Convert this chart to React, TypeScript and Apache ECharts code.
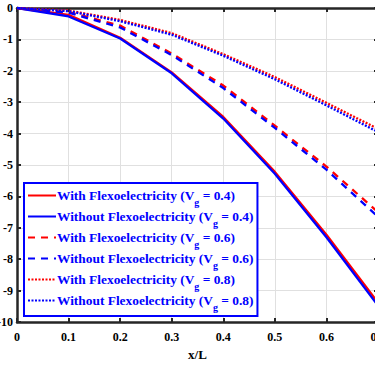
import React, { useEffect, useRef } from "react";
import * as echarts from "echarts";

const xs = [0, 0.1, 0.2, 0.3, 0.4, 0.5, 0.6, 0.7];
const withFlex04 = [0, -0.22, -0.95, -2.05, -3.47, -5.22, -7.22, -9.38];
const withoutFlex04 = [0, -0.27, -0.97, -2.08, -3.52, -5.28, -7.3, -9.48];
const withFlex06 = [0, -0.13, -0.56, -1.45, -2.47, -3.75, -5.05, -6.5];
const withoutFlex06 = [0, -0.15, -0.62, -1.5, -2.55, -3.82, -5.15, -6.65];
const withFlex08 = [0, -0.08, -0.38, -0.8, -1.47, -2.2, -3.02, -3.85];
const withoutFlex08 = [0, -0.1, -0.42, -0.85, -1.52, -2.27, -3.1, -3.95];

const names = [
  "With Flexoelectricity (V{sub|g} = 0.4)",
  "Without Flexoelectricity (V{sub|g} = 0.4)",
  "With Flexoelectricity (V{sub|g} = 0.6)",
  "Without Flexoelectricity (V{sub|g} = 0.6)",
  "With Flexoelectricity (V{sub|g} = 0.8)",
  "Without Flexoelectricity (V{sub|g} = 0.8)",
];
const seriesData = [withFlex04, withoutFlex04, withFlex06, withoutFlex06, withFlex08, withoutFlex08];
const colors = ["#ff0000", "#0000ff", "#ff0000", "#0000ff", "#ff0000", "#0000ff"];
const types: any[] = ["solid", "solid", [7, 6], [7, 6], [2, 1.5], [2, 1.5]];

const FONT = "Liberation Serif";

export default function App() {
  const ref = useRef<HTMLDivElement>(null);
  useEffect(() => {
    const chart = echarts.init(ref.current!, null, { renderer: "svg" });
    const series = names.map((n, i) => ({
      name: n,
      type: "line",
      data: xs.map((x, j) => [x, seriesData[i][j]]),
      symbol: "none",
      lineStyle: { color: colors[i], width: 2.3, type: types[i] },
      itemStyle: { color: colors[i] },
      z: 3,
    }));
    chart.setOption({
      animation: false,
      grid: { left: 17, top: 8, width: 361, height: 314, outerBoundsMode: "none", containLabel: false },
      legend: {
        orient: "vertical",
        left: 24,
        top: 183,
        padding: [6, 4, 4, 3],
        itemGap: 3,
        itemWidth: 28,
        itemHeight: 16,
        icon: "inherit",
        itemStyle: { opacity: 0 },
        backgroundColor: "#ffffff",
        borderColor: "#0000ff",
        borderWidth: 2,
        borderRadius: 0,
        data: names,
        textStyle: {
          color: "#0000ff",
          fontFamily: FONT,
          fontWeight: "bold",
          fontSize: 13.4,
          padding: [0, 0, 0, -4],
          rich: {
            sub: {
              color: "#0000ff",
              fontFamily: FONT,
              fontWeight: "bold",
              fontSize: 10,
              verticalAlign: "bottom",
              padding: [13, 0, 0, 0],
            },
          },
        },
      },
      xAxis: [
        {
          type: "value",
          min: 0,
          max: 0.7,
          interval: 0.1,
          position: "bottom",
          name: "x/L",
          nameLocation: "middle",
          nameGap: 22,
          nameTextStyle: { color: "#000", fontFamily: FONT, fontWeight: "bold", fontSize: 13 },
          axisLine: { show: true, onZero: false, lineStyle: { color: "#262626", width: 2.5 } },
          axisTick: { show: true, inside: true, length: 4, lineStyle: { color: "#262626", width: 2 } },
          axisLabel: {
            color: "#000",
            fontFamily: FONT,
            fontWeight: "bold",
            fontSize: 12,
            margin: 9,
            formatter: (v: number) => (Math.round(v * 10) / 10).toString(),
          },
          splitLine: { show: true, lineStyle: { color: "#e0e0e0", width: 1 } },
        },
        {
          type: "value",
          min: 0,
          max: 0.7,
          interval: 0.1,
          position: "top",
          axisLine: { show: true, onZero: false, lineStyle: { color: "#262626", width: 2.5 } },
          axisTick: { show: true, inside: true, length: 4, lineStyle: { color: "#262626", width: 2 } },
          axisLabel: { show: false },
          splitLine: { show: false },
        },
      ],
      yAxis: [
        {
          type: "value",
          min: -10,
          max: 0,
          interval: 1,
          position: "left",
          axisLine: { show: true, onZero: false, lineStyle: { color: "#262626", width: 2.5 } },
          axisTick: { show: true, inside: true, length: 4, lineStyle: { color: "#262626", width: 2 } },
          axisLabel: { color: "#000", fontFamily: FONT, fontWeight: "bold", fontSize: 12, margin: 4 },
          splitLine: { show: true, lineStyle: { color: "#e0e0e0", width: 1 } },
        },
        {
          type: "value",
          min: -10,
          max: 0,
          interval: 1,
          position: "right",
          axisLine: { show: true, onZero: false, lineStyle: { color: "#262626", width: 2.5 } },
          axisTick: { show: true, inside: true, length: 4, lineStyle: { color: "#262626", width: 2 } },
          axisLabel: { show: false },
          splitLine: { show: false },
        },
      ],
      series,
    });
    return () => chart.dispose();
  }, []);
  return (
    <div style={{ position: "fixed", left: 0, top: 0, width: 375, height: 366, overflow: "hidden", background: "#fff" }}>
      <div ref={ref} style={{ width: 400, height: 366 }} />
    </div>
  );
}
